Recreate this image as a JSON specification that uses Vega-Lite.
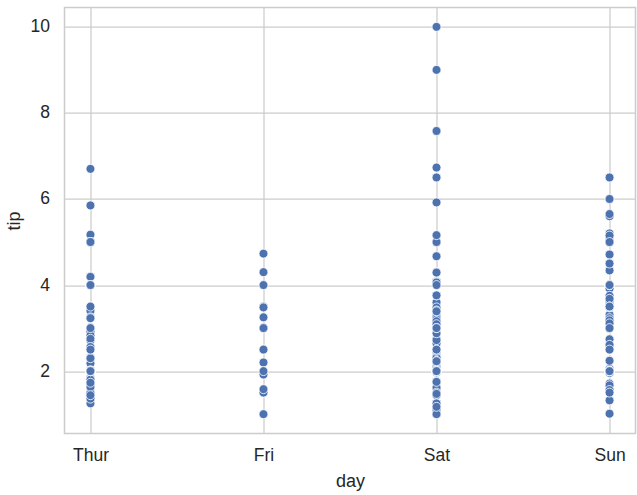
{
  "$schema": "https://vega.github.io/schema/vega-lite/v6.json",
  "width": 571,
  "height": 426,
  "autosize": {"type": "none"},
  "padding": {"left": 64.5, "top": 7.5, "right": 1.5, "bottom": 61.5},
  "background": "white",
  "config": {
    "font": "Liberation Sans",
    "view": {"stroke": "#cccccc", "strokeWidth": 1.5},
    "axis": {
      "domain": false,
      "ticks": false,
      "tickSize": 0,
      "grid": true,
      "gridColor": "#cccccc",
      "gridWidth": 1.25,
      "labelFont": "Liberation Sans",
      "labelFontSize": 17.5,
      "labelColor": "#262626",
      "titleFont": "Liberation Sans",
      "titleFontSize": 18,
      "titleFontWeight": "normal",
      "titleColor": "#262626"
    }
  },
  "data": {
    "values": [
      {"day":"Sun","tip":1.01},{"day":"Sun","tip":1.66},{"day":"Sun","tip":3.5},{"day":"Sun","tip":3.31},{"day":"Sun","tip":3.61},{"day":"Sun","tip":4.71},{"day":"Sun","tip":2.0},{"day":"Sun","tip":3.12},{"day":"Sun","tip":1.96},{"day":"Sun","tip":3.23},{"day":"Sun","tip":1.71},{"day":"Sun","tip":5.0},{"day":"Sun","tip":1.57},{"day":"Sun","tip":3.0},{"day":"Sun","tip":3.02},{"day":"Sun","tip":3.92},{"day":"Sun","tip":1.67},{"day":"Sun","tip":3.71},{"day":"Sun","tip":3.5},
      {"day":"Sat","tip":3.35},{"day":"Sat","tip":4.08},{"day":"Sat","tip":2.75},{"day":"Sat","tip":2.23},{"day":"Sat","tip":7.58},{"day":"Sat","tip":3.18},{"day":"Sat","tip":2.34},{"day":"Sat","tip":2.0},{"day":"Sat","tip":2.0},{"day":"Sat","tip":4.3},{"day":"Sat","tip":3.0},{"day":"Sat","tip":1.45},{"day":"Sat","tip":2.5},{"day":"Sat","tip":3.0},{"day":"Sat","tip":2.45},{"day":"Sat","tip":3.27},{"day":"Sat","tip":3.6},{"day":"Sat","tip":2.0},{"day":"Sat","tip":3.07},{"day":"Sat","tip":2.31},{"day":"Sat","tip":5.0},{"day":"Sat","tip":2.24},
      {"day":"Sun","tip":2.54},{"day":"Sun","tip":3.06},{"day":"Sun","tip":1.32},{"day":"Sun","tip":5.6},{"day":"Sun","tip":3.0},{"day":"Sun","tip":5.0},{"day":"Sun","tip":6.0},{"day":"Sun","tip":2.05},{"day":"Sun","tip":3.0},{"day":"Sun","tip":2.5},{"day":"Sun","tip":2.6},{"day":"Sun","tip":5.2},{"day":"Sun","tip":1.56},{"day":"Sun","tip":4.34},{"day":"Sun","tip":3.51},
      {"day":"Sat","tip":3.0},{"day":"Sat","tip":1.5},{"day":"Sat","tip":1.76},{"day":"Sat","tip":6.73},{"day":"Sat","tip":3.21},{"day":"Sat","tip":2.0},{"day":"Sat","tip":1.98},{"day":"Sat","tip":3.76},{"day":"Sat","tip":2.64},{"day":"Sat","tip":3.15},{"day":"Sat","tip":2.47},{"day":"Sat","tip":1.0},{"day":"Sat","tip":2.01},{"day":"Sat","tip":2.09},{"day":"Sat","tip":1.97},{"day":"Sat","tip":3.0},{"day":"Sat","tip":3.14},{"day":"Sat","tip":5.0},{"day":"Sat","tip":2.2},{"day":"Sat","tip":1.25},{"day":"Sat","tip":3.08},
      {"day":"Thur","tip":4.0},{"day":"Thur","tip":3.0},{"day":"Thur","tip":2.71},{"day":"Thur","tip":3.0},{"day":"Thur","tip":3.4},{"day":"Thur","tip":1.83},{"day":"Thur","tip":5.0},{"day":"Thur","tip":2.03},{"day":"Thur","tip":5.17},{"day":"Thur","tip":2.0},{"day":"Thur","tip":4.0},{"day":"Thur","tip":5.85},{"day":"Thur","tip":3.0},
      {"day":"Fri","tip":3.0},{"day":"Fri","tip":3.5},{"day":"Fri","tip":1.0},{"day":"Fri","tip":4.3},{"day":"Fri","tip":3.25},{"day":"Fri","tip":4.73},{"day":"Fri","tip":4.0},{"day":"Fri","tip":1.5},{"day":"Fri","tip":3.0},{"day":"Fri","tip":1.5},{"day":"Fri","tip":2.5},{"day":"Fri","tip":3.0},
      {"day":"Sat","tip":2.5},{"day":"Sat","tip":3.48},{"day":"Sat","tip":4.08},{"day":"Sat","tip":1.64},{"day":"Sat","tip":4.06},{"day":"Sat","tip":4.29},{"day":"Sat","tip":3.76},{"day":"Sat","tip":4.0},{"day":"Sat","tip":3.0},{"day":"Sat","tip":1.0},
      {"day":"Sun","tip":4.0},{"day":"Sun","tip":2.55},{"day":"Sun","tip":4.0},{"day":"Sun","tip":3.5},{"day":"Sun","tip":5.07},
      {"day":"Thur","tip":1.5},{"day":"Thur","tip":1.8},{"day":"Thur","tip":2.92},{"day":"Thur","tip":2.31},{"day":"Thur","tip":1.68},{"day":"Thur","tip":2.5},{"day":"Thur","tip":2.0},{"day":"Thur","tip":2.52},{"day":"Thur","tip":4.2},{"day":"Thur","tip":1.48},{"day":"Thur","tip":2.0},{"day":"Thur","tip":2.0},{"day":"Thur","tip":2.18},{"day":"Thur","tip":1.5},{"day":"Thur","tip":2.83},{"day":"Thur","tip":1.5},{"day":"Thur","tip":2.0},{"day":"Thur","tip":3.25},{"day":"Thur","tip":1.25},{"day":"Thur","tip":2.0},{"day":"Thur","tip":2.0},{"day":"Thur","tip":2.0},{"day":"Thur","tip":2.75},{"day":"Thur","tip":3.5},{"day":"Thur","tip":6.7},{"day":"Thur","tip":5.0},{"day":"Thur","tip":5.0},{"day":"Thur","tip":2.3},{"day":"Thur","tip":1.5},{"day":"Thur","tip":1.36},{"day":"Thur","tip":1.63},{"day":"Thur","tip":1.73},{"day":"Thur","tip":2.0},
      {"day":"Sun","tip":2.5},{"day":"Sun","tip":2.0},{"day":"Sun","tip":2.74},{"day":"Sun","tip":2.0},{"day":"Sun","tip":2.0},{"day":"Sun","tip":5.14},{"day":"Sun","tip":5.0},{"day":"Sun","tip":3.75},{"day":"Sun","tip":2.61},{"day":"Sun","tip":2.0},{"day":"Sun","tip":3.5},{"day":"Sun","tip":2.5},{"day":"Sun","tip":2.0},{"day":"Sun","tip":2.0},{"day":"Sun","tip":3.0},{"day":"Sun","tip":3.48},{"day":"Sun","tip":2.24},{"day":"Sun","tip":4.5},
      {"day":"Sat","tip":1.61},{"day":"Sat","tip":2.0},{"day":"Sat","tip":10.0},{"day":"Sat","tip":3.16},
      {"day":"Sun","tip":5.15},{"day":"Sun","tip":3.18},{"day":"Sun","tip":4.0},{"day":"Sun","tip":3.11},{"day":"Sun","tip":2.0},{"day":"Sun","tip":2.0},{"day":"Sun","tip":4.0},{"day":"Sun","tip":3.55},{"day":"Sun","tip":3.68},{"day":"Sun","tip":5.65},{"day":"Sun","tip":3.5},{"day":"Sun","tip":6.5},{"day":"Sun","tip":3.0},{"day":"Sun","tip":5.0},{"day":"Sun","tip":3.5},{"day":"Sun","tip":2.0},{"day":"Sun","tip":3.5},{"day":"Sun","tip":4.0},{"day":"Sun","tip":1.5},
      {"day":"Thur","tip":4.19},{"day":"Thur","tip":2.56},{"day":"Thur","tip":2.02},{"day":"Thur","tip":4.0},{"day":"Thur","tip":1.44},{"day":"Thur","tip":2.0},{"day":"Thur","tip":5.0},{"day":"Thur","tip":2.0},{"day":"Thur","tip":2.0},{"day":"Thur","tip":4.0},{"day":"Thur","tip":2.01},{"day":"Thur","tip":2.0},{"day":"Thur","tip":2.5},{"day":"Thur","tip":4.0},{"day":"Thur","tip":3.23},
      {"day":"Sat","tip":3.41},{"day":"Sat","tip":3.0},{"day":"Sat","tip":2.03},{"day":"Sat","tip":2.23},{"day":"Sat","tip":2.0},{"day":"Sat","tip":5.16},{"day":"Sat","tip":9.0},{"day":"Sat","tip":2.5},{"day":"Sat","tip":6.5},{"day":"Sat","tip":1.1},{"day":"Sat","tip":3.0},{"day":"Sat","tip":1.5},{"day":"Sat","tip":1.44},{"day":"Sat","tip":3.09},
      {"day":"Fri","tip":2.2},{"day":"Fri","tip":3.48},{"day":"Fri","tip":1.92},{"day":"Fri","tip":3.0},{"day":"Fri","tip":1.58},{"day":"Fri","tip":2.5},{"day":"Fri","tip":2.0},
      {"day":"Sat","tip":3.0},{"day":"Sat","tip":2.72},{"day":"Sat","tip":2.88},{"day":"Sat","tip":2.0},{"day":"Sat","tip":3.0},{"day":"Sat","tip":3.39},{"day":"Sat","tip":1.47},{"day":"Sat","tip":3.0},{"day":"Sat","tip":1.25},{"day":"Sat","tip":1.0},{"day":"Sat","tip":1.17},{"day":"Sat","tip":4.67},{"day":"Sat","tip":5.92},{"day":"Sat","tip":2.0},{"day":"Sat","tip":2.0},{"day":"Sat","tip":1.75},
      {"day":"Thur","tip":3.0}
    ]
  },
  "mark": {"type": "point", "filled": true, "shape": "circle", "size": 80, "fill": "#4c72b0", "stroke": "white", "strokeWidth": 0.8, "opacity": 1},
  "encoding": {
    "x": {
      "field": "day",
      "type": "nominal",
      "sort": ["Thur", "Fri", "Sat", "Sun"],
      "scale": {"type": "point", "padding": 0.15},
      "axis": {"title": "day", "labelAngle": 0, "labelPadding": 13, "titlePadding": 8}
    },
    "y": {
      "field": "tip",
      "type": "quantitative",
      "scale": {"domain": [0.55, 10.45], "nice": false, "zero": false},
      "axis": {"title": "tip", "values": [2, 4, 6, 8, 10], "labelPadding": 15, "titlePadding": 7}
    }
  }
}
